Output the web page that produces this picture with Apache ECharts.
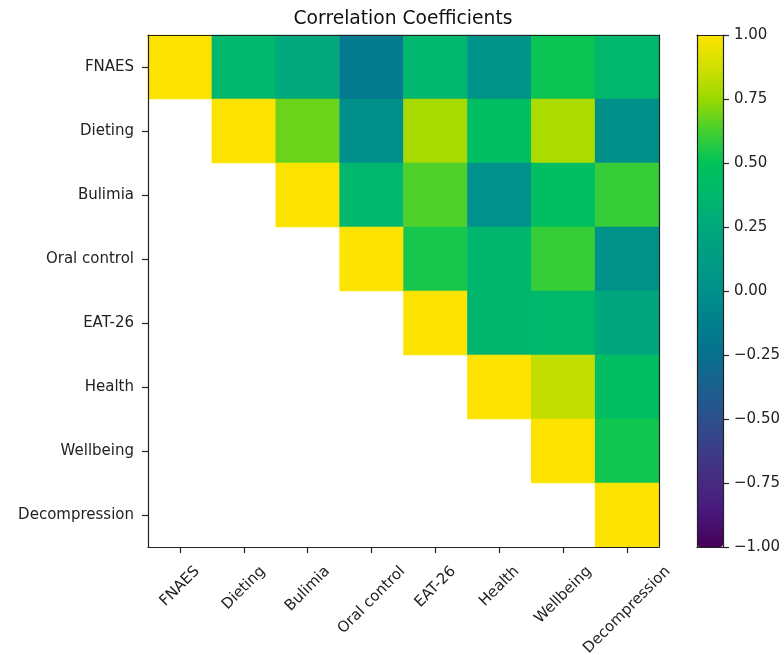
<!DOCTYPE html>
<html>
<head>
<meta charset="utf-8">
<script src="https://cdn.jsdelivr.net/npm/echarts@6/dist/echarts.min.js"></script>
<style>html,body{margin:0;padding:0;background:#fff;}#main{width:784px;height:655px;}</style>
</head>
<body>
<div id="main"></div>
<script>
const categories = ['FNAES','Dieting','Bulimia','Oral control','EAT-26','Health','Wellbeing','Decompression'];
// upper-triangle correlation rows (null = not shown)
const rowFNAES        = [1.00, 0.37, 0.25, -0.17, 0.37, 0.03, 0.52, 0.37];
const rowDieting      = [null, 1.00, 0.68, 0.00, 0.78, 0.45, 0.79, 0.00];
const rowBulimia      = [null, null, 1.00, 0.37, 0.64, 0.01, 0.45, 0.60];
const rowOralControl  = [null, null, null, 1.00, 0.54, 0.36, 0.60, 0.02];
const rowEAT26        = [null, null, null, null, 1.00, 0.36, 0.38, 0.24];
const rowHealth       = [null, null, null, null, null, 1.00, 0.84, 0.45];
const rowWellbeing    = [null, null, null, null, null, null, 1.00, 0.53];
const rowDecompression= [null, null, null, null, null, null, null, 1.00];
const colorbarTicks = [-1, -0.75, -0.5, -0.25, 0, 0.25, 0.5, 0.75, 1];

const rows = [rowFNAES,rowDieting,rowBulimia,rowOralControl,rowEAT26,rowHealth,rowWellbeing,rowDecompression];
const data = [];
rows.forEach((r, yi) => r.forEach((v, xi) => { if (v !== null) data.push([xi, yi, v]); }));

const font = 'DejaVu Sans';
const fs = 15;
// centre rotated x labels on their ticks (matplotlib rotation=45, ha='center')
const ctx = document.createElement('canvas').getContext('2d');
ctx.font = fs + 'px "' + font + '"';
const labelMargin = 10, labelTop = 16, labelH = 17;
const rich = {};
categories.forEach((c, i) => {
  const L = ctx.measureText(c).width;
  const D = labelTop - labelMargin + 0.354 * (L + labelH);
  const k = 0.707 * D;
  rich['l' + i] = {fontFamily: font, fontSize: fs, color: '#222', padding: [2 * k, 2 * k, 0, 0]};
});

const chart = echarts.init(document.getElementById('main'));
chart.setOption({
  animation: false,
  backgroundColor: '#fff',
  title: {
    text: 'Correlation Coefficients', left: 403, top: 10, textAlign: 'center', padding: 0,
    textStyle: {fontFamily: font, fontSize: 18.7, fontWeight: 'normal', color: '#111'}
  },
  grid: [
    {left: 148, top: 35, width: 511, height: 512, show: false, containLabel: false, outerBoundsMode: 'none'},
    {left: 697, top: 35, width: 26, height: 512, show: false, containLabel: false, outerBoundsMode: 'none'}
  ],
  xAxis: [
    {type: 'category', gridIndex: 0, data: categories, z: 10,
     axisLine: {show: true, lineStyle: {color: '#222', width: 1.2}},
     axisTick: {show: true, alignWithLabel: true, length: 6, lineStyle: {color: '#222', width: 1.2}},
     axisLabel: {rotate: 45, align: 'center', verticalAlign: 'middle', margin: labelMargin, interval: 0,
       formatter: (v, i) => '{l' + i + '|' + v + '}', rich: rich},
     splitLine: {show: false}},
    {type: 'category', gridIndex: 0, data: categories, position: 'top', z: 10,
     axisLine: {show: true, lineStyle: {color: '#222', width: 1.2}},
     axisTick: {show: false}, axisLabel: {show: false}},
    {type: 'value', gridIndex: 1, min: 0, max: 1, show: true, position: 'bottom', z: 10,
     axisLine: {show: true, onZero: false, lineStyle: {color: '#222', width: 1.2}}, axisTick: {show: false}, axisLabel: {show: false}, splitLine: {show: false}},
    {type: 'value', gridIndex: 1, min: 0, max: 1, show: true, position: 'top', z: 10,
     axisLine: {show: true, onZero: false, lineStyle: {color: '#222', width: 1.2}}, axisTick: {show: false}, axisLabel: {show: false}, splitLine: {show: false}}
  ],
  yAxis: [
    {type: 'category', gridIndex: 0, data: categories, inverse: true, z: 10,
     axisLine: {show: true, lineStyle: {color: '#222', width: 1.2}},
     axisTick: {show: true, alignWithLabel: true, length: 6, lineStyle: {color: '#222', width: 1.2}},
     axisLabel: {fontFamily: font, fontSize: fs, color: '#222', margin: 14},
     splitLine: {show: false}},
    {type: 'category', gridIndex: 0, data: categories, inverse: true, position: 'right', z: 10,
     axisLine: {show: true, lineStyle: {color: '#222', width: 1.2}},
     axisTick: {show: false}, axisLabel: {show: false}},
    {type: 'value', gridIndex: 1, min: -1, max: 1, interval: 0.25, position: 'right', z: 10,
     axisLine: {show: true, onZero: false, lineStyle: {color: '#222', width: 1.2}},
     axisTick: {show: true, length: 6, lineStyle: {color: '#222', width: 1.2}},
     axisLabel: {fontFamily: font, fontSize: fs, color: '#222', margin: 11,
       formatter: v => (v < 0 ? '\u2212' : '') + Math.abs(v).toFixed(2)},
     splitLine: {show: false}},
    {type: 'value', gridIndex: 1, min: -1, max: 1, position: 'left', z: 10,
     axisLine: {show: true, onZero: false, lineStyle: {color: '#222', width: 1.2}},
     axisTick: {show: false}, axisLabel: {show: false}, splitLine: {show: false}}
  ],
  visualMap: {
    type: 'continuous', min: -1, max: 1, seriesIndex: 0,
    left: 697, top: 35, itemWidth: 26, itemHeight: 512, padding: 0,
    calculable: false, realtime: false, hoverLink: false, text: ['', ''], showLabel: false,
    inRange: {color: ['#460058','#48167a','#472a80','#3d3c88','#2c4f8c','#1a608e','#07708e','#00808c','#00908a',
                      '#009c84','#00a87c','#00b86c','#00c25a','#44d030','#9bd800','#d0e000','#fde400']}
  },
  series: [{
    type: 'heatmap', xAxisIndex: 0, yAxisIndex: 0, data: data,
    itemStyle: {borderWidth: 0},
    emphasis: {disabled: true}
  }]
});
</script>
</body>
</html>
